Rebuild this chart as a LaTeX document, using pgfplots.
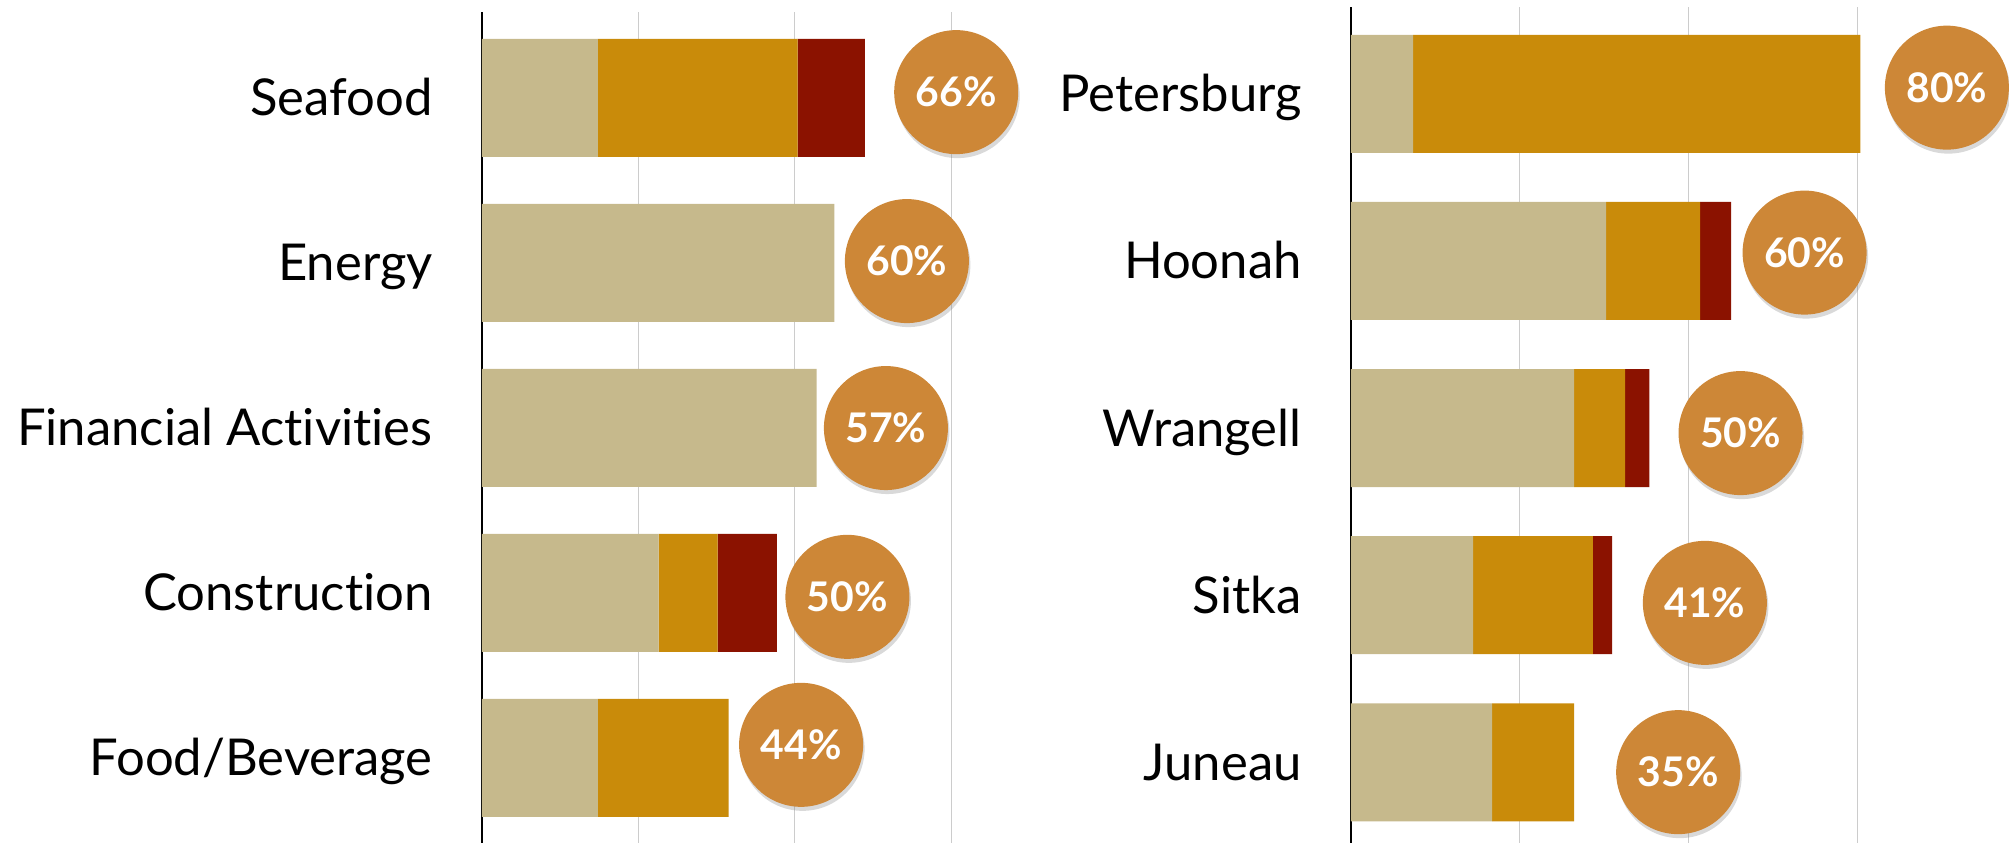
\documentclass[border=0pt]{standalone}
\usepackage{pgfplots}
\pgfplotsset{compat=1.18}
\usepackage{pgfplotstable}
\usepackage{fontspec}
\setmainfont{Lato}[Ligatures=NoCommon]
\usetikzlibrary{shapes.geometric,shadows}
\definecolor{ctan}{HTML}{C6B98C}
\definecolor{cgold}{HTML}{C98B0A}
\definecolor{cred}{HTML}{8B1200}
\definecolor{ccirc}{HTML}{CD8737}
\definecolor{cgrid}{HTML}{CCCCCC}

\pgfplotstableread{
y tan gold red
0 0.741 1.277 0.430
1 2.252 0 0
2 2.140 0 0
3 1.130 0.376 0.380
4 0.741 0.836 0
}\leftbars
\pgfplotstableread{
cx cy lab
3.031 -0.035 66
2.716 0.989 60
2.582 2.001 57
2.336 3.024 50
2.040 3.921 44
}\leftcirc
\pgfplotstableread{
y tan gold red
0 0.369 2.646 0
1 1.510 0.557 0.184
2 1.321 0.302 0.144
3 0.723 0.710 0.113
4 0.836 0.485 0
}\rightbars
\pgfplotstableread{
cx cy lab
3.527 -0.037 80
2.685 0.950 60
2.306 2.030 50
2.095 3.046 41
1.937 4.059 35
}\rightcirc

\tikzset{circnode/.style={anchor=center, circle, inner sep=0pt,
    minimum size=124bp, fill=ccirc,
    drop shadow={opacity=0.3, shadow xshift=1.5bp, shadow yshift=-4bp},
    text=white, font=\bfseries\fontsize{41}{41}\selectfont}}

\pgfplotsset{
  leftgeom/.style={scale only axis, width=610.4bp, height=830.9bp,
    xmin=0, xmax=3.9, ymin=-0.52, ymax=4.516, y dir=reverse,
    at={(481.8bp,0bp)}, anchor=south west, clip=false},
  rightgeom/.style={scale only axis, width=659.1bp, height=835.9bp,
    xmin=0, xmax=3.9, ymin=-0.519, ymax=4.483, y dir=reverse,
    at={(1350.8bp,0bp)}, anchor=south west, clip=false},
  barstyle/.style={xbar stacked, bar width=118bp,
    axis line style={draw=none},
    xtick={1,2,3}, xticklabels={}, xmajorgrids,
    major grid style={color=cgrid, line width=1.2bp},
    extra x ticks={0}, extra x tick labels={},
    extra x tick style={grid=major, major grid style={black, line width=1.4bp}},
    ytick={0,1,2,3,4}, major tick length=0pt, tick style={draw=none},
    yticklabel style={inner sep=0pt, anchor=base east, yshift=-18bp,
      font=\fontsize{51}{60}\selectfont}},
  circstyle/.style={hide axis},
}

\begin{document}
\begin{tikzpicture}
\useasboundingbox (0,0) rectangle (2009bp,843bp);
% left panel
\begin{axis}[leftgeom, barstyle,
  yticklabels={Seafood,Energy,Financial Activities,Construction,Food/Beverage},
  yticklabel style={xshift=-49bp}]
\addplot[fill=ctan, draw=none] table[x=tan, y=y] {\leftbars};
\addplot[fill=cgold, draw=none] table[x=gold, y=y] {\leftbars};
\addplot[fill=cred, draw=none] table[x=red, y=y] {\leftbars};
\end{axis}
\begin{axis}[leftgeom, circstyle]
\addplot[draw=none, mark=none, nodes near coords={\pgfplotspointmeta\%},
  point meta=explicit symbolic,
  every node near coord/.style={circnode}]
  table[x=cx, y=cy, meta=lab] {\leftcirc};
\end{axis}
% right panel
\begin{axis}[rightgeom, barstyle,
  yticklabels={Petersburg,Hoonah,Wrangell,Sitka,Juneau},
  yticklabel style={xshift=-49bp}]
\addplot[fill=ctan, draw=none] table[x=tan, y=y] {\rightbars};
\addplot[fill=cgold, draw=none] table[x=gold, y=y] {\rightbars};
\addplot[fill=cred, draw=none] table[x=red, y=y] {\rightbars};
\end{axis}
\begin{axis}[rightgeom, circstyle]
\addplot[draw=none, mark=none, nodes near coords={\pgfplotspointmeta\%},
  point meta=explicit symbolic,
  every node near coord/.style={circnode}]
  table[x=cx, y=cy, meta=lab] {\rightcirc};
\end{axis}
\end{tikzpicture}
\end{document}
